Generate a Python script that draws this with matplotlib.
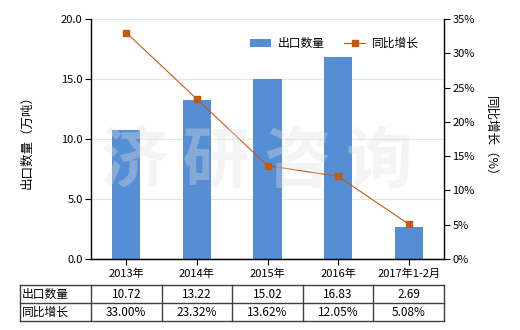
import matplotlib
matplotlib.use("Agg")
import matplotlib.pyplot as plt
import numpy as np

plt.rcParams['font.family'] = ['Noto Sans CJK SC', 'DejaVu Sans']

categories = ["2013年", "2014年", "2015年", "2016年", "2017年1-2月"]
export_qty = [10.72, 13.22, 15.02, 16.83, 2.69]
yoy_growth = [33.00, 23.32, 13.62, 12.05, 5.08]
qty_labels = ["10.72", "13.22", "15.02", "16.83", "2.69"]
growth_labels = ["33.00%", "23.32%", "13.62%", "12.05%", "5.08%"]
row_names = ["出口数量", "同比增长"]

W, H = 520, 330
fig = plt.figure(figsize=(W / 100, H / 100), dpi=100)
ax = fig.add_axes([91 / W, 1 - 259 / H, (444 - 91) / W, (259 - 19) / H])
ax2 = ax.twinx()

bar_color = "#558ED5"
line_color = "#C65911"
x = np.arange(len(categories))

ax.bar(x, export_qty, width=0.4, color=bar_color, zorder=2, label="出口数量")
ax.set_xlim(-0.5, len(categories) - 0.5)
ax.set_ylim(0, 20)
ax.set_yticks([0, 5, 10, 15, 20])
ax.set_yticklabels(["0.0", "5.0", "10.0", "15.0", "20.0"])
ax.grid(axis="y", color="#DDEBE8", linewidth=0.8, zorder=0)
ax.set_axisbelow(True)

ax2.plot(x, yoy_growth, color=line_color, linewidth=0.8, marker="s", markersize=5,
         zorder=3, label="同比增长")
ax2.set_ylim(0, 35)
ax2.set_yticks([0, 5, 10, 15, 20, 25, 30, 35])
ax2.set_yticklabels([f"{v}%" for v in [0, 5, 10, 15, 20, 25, 30, 35]])

for a in (ax, ax2):
    a.spines["top"].set_visible(False)
    a.tick_params(labelsize=8, length=4, width=0.8, direction="out", pad=2)
ax.spines["right"].set_visible(False)
ax2.spines["left"].set_visible(False)
ax2.spines["right"].set_linewidth(1.0)
ax.spines["left"].set_linewidth(1.0)
ax.spines["bottom"].set_linewidth(1.0)

ax.set_xticks(x)
ax.set_xticklabels(categories, fontsize=8)
ax.tick_params(axis="x", pad=3)

ax.set_ylabel("出口数量（万吨）", fontsize=9, labelpad=20)
ax2.set_ylabel("同比增长（%）", fontsize=9, rotation=270, labelpad=16)

# legend
h1, l1 = ax.get_legend_handles_labels()
h2, l2 = ax2.get_legend_handles_labels()
leg = ax2.legend(h1 + h2, l1 + l2, loc="upper right", bbox_to_anchor=(0.96, 0.97),
                 ncol=2, frameon=False, fontsize=8.5, handlelength=1.8,
                 columnspacing=1.6, handletextpad=0.6)

# watermark
fig.text(0.495, 0.51, "济 研 咨 询", fontsize=48, fontweight="bold",
         color=(0.88, 0.88, 0.88), alpha=0.35, ha="center", va="center", zorder=10)

# table
col_w = (444 - 91) / len(categories)
table_left = 20
row_tops = [285, 303]
row_h = 18
line_kw = dict(color="#404040", linewidth=1.0)
bottom = row_tops[-1] + row_h
xs = [table_left, 91] + [91 + col_w * (i + 1) for i in range(len(categories))]
for yy in [row_tops[0], row_tops[1], bottom]:
    fig.add_artist(plt.Line2D([table_left / W, 444 / W], [1 - yy / H, 1 - yy / H],
                              transform=fig.transFigure, **line_kw))
for xx in xs:
    fig.add_artist(plt.Line2D([xx / W, xx / W], [1 - row_tops[0] / H, 1 - bottom / H],
                              transform=fig.transFigure, **line_kw))
for r, (name, vals) in enumerate(zip(row_names, [qty_labels, growth_labels])):
    yc = row_tops[r] + row_h / 2
    fig.text((table_left + 2) / W, 1 - yc / H, name, fontsize=8.5, ha="left", va="center")
    for i, v in enumerate(vals):
        xc = 91 + col_w * (i + 0.5)
        fig.text(xc / W, 1 - (yc + 1) / H, v, fontsize=8.5, ha="center", va="center")

fig.savefig("out.png", dpi=100)
